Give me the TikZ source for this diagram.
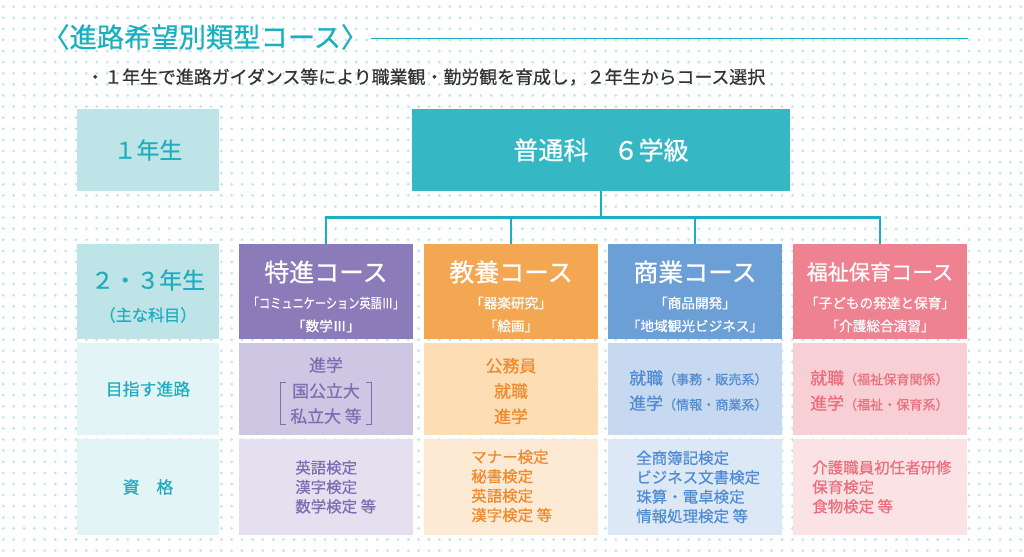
\documentclass[tikz,border=0pt]{standalone}
\usepackage{fontspec}
\usepackage{graphicx}
\setmainfont{Noto Sans CJK JP}[FakeBold=0.6]
\usetikzlibrary{positioning}
\definecolor{tealline}{HTML}{1BB0C0}
\definecolor{tealmain}{HTML}{35B8C4}
\definecolor{tealdark}{HTML}{BEE4E8}
\definecolor{teallight}{HTML}{E3F4F6}
\definecolor{tealtext}{HTML}{20AEBE}
\definecolor{dotc}{HTML}{C2E5EA}
\definecolor{notec}{HTML}{333333}
\definecolor{tkA}{HTML}{8B7BB8}
\definecolor{tkB}{HTML}{CEC7E3}
\definecolor{tkC}{HTML}{E4E0F0}
\definecolor{tkT}{HTML}{7F6DB1}
\definecolor{kyA}{HTML}{F4A753}
\definecolor{kyB}{HTML}{FCDDB4}
\definecolor{kyC}{HTML}{FDEAD5}
\definecolor{kyT}{HTML}{EE8A2D}
\definecolor{shA}{HTML}{6B9FD5}
\definecolor{shB}{HTML}{C6D9F0}
\definecolor{shC}{HTML}{DDE8F6}
\definecolor{shT}{HTML}{4F8CD1}
\definecolor{fkA}{HTML}{EE8290}
\definecolor{fkB}{HTML}{F8CFD4}
\definecolor{fkC}{HTML}{FBE2E5}
\definecolor{fkT}{HTML}{EA6E7D}
\tikzset{%
	cell/.style      = {rectangle, inner sep=0pt, text centered},
	leftdark/.style  = {cell, fill=tealdark, minimum width=3.55cm},
	leftlight/.style = {cell, fill=teallight, minimum width=3.55cm, text=tealtext, font=\fontsize{12}{14}\selectfont},
	mainbox/.style   = {cell, fill=tealmain, minimum width=9.45cm, minimum height=2.05cm, text=white, font=\fontsize{17.8}{20}\selectfont},
	headcell/.style  = {cell, fill=#1, minimum width=4.35cm, minimum height=2.375cm},
	goalcell/.style  = {cell, fill=#1, minimum width=4.35cm, minimum height=2.3cm},
	qualcell/.style  = {cell, fill=#1, minimum width=4.35cm, minimum height=2.4cm},
	yearlbl/.style   = {inner sep=0pt, text=tealtext, font=\fontsize{16.2}{19}\selectfont},
	yearsub/.style   = {inner sep=0pt, text=tealtext, font=\fontsize{11.5}{13}\selectfont},
	hdname/.style    = {inner sep=0pt, text=white, font=\fontsize{17.7}{20}\selectfont},
	hdsub/.style     = {inner sep=0pt, text=white, align=center, font=\fontsize{9.7}{16.3}\selectfont},
	goal/.style      = {inner sep=0pt, text=#1, align=center, font=\fontsize{12}{18}\selectfont},
	goalleft/.style  = {inner sep=0pt, text=#1, align=left, anchor=west, font=\fontsize{12}{18}\selectfont},
	qual/.style      = {inner sep=0pt, text=#1, align=left, anchor=west, font=\fontsize{11}{13.8}\selectfont},
	link/.style      = {draw=tealline, line width=2.1pt},
	dotrow/.style    = {draw=dotc, line width=2.2pt, line cap=round, dash pattern=on 0pt off 0.2595cm},
}
\newcommand{\parsmall}[1]{{\fontsize{9.3}{18}\selectfont #1}}

\begin{document}
\begin{tikzpicture}[x=0.025cm, y=-0.025cm]
	\useasboundingbox[fill=white] (0,0) rectangle (1024,557);
	% dotted background
	\foreach \r in {0,...,49}
		\draw[dotrow] (3.3,6.7+11.1*\r) -- (1022,6.7+11.1*\r);

	\node[inner sep=0pt, anchor=west, text=tealline, font=\fontsize{19.4}{22}\selectfont] (ttl) at (42,37) {〈進路希望別類型コース〉};
	\coordinate (ttlend) at (968,38.5);
	\draw[draw=tealline, line width=1.4pt] ([xshift=2pt]ttl.east |- ttlend) -- (ttlend);
	\node[inner sep=0pt, anchor=west, text=notec, font=\fontsize{12.75}{15}\selectfont] (note) at (86,77) {・１年生で進路ガイダンス等により職業観・勤労観を育成し，２年生からコース選択};

	% first year
	\node[leftdark, minimum height=2.05cm, text=tealtext, font=\fontsize{16.2}{19}\selectfont] (y1) at (148,150) {１年生};
	\node[mainbox] (main) at (601,150) {普通科　６学級};

	% left column
	\node[leftdark, minimum height=2.375cm] (lhd) at (148,291.5) {};
	\node[yearlbl] (lhdt) at (148,280) {２・３年生};
	\node[yearsub] (lhds) at (148,315) {（主な科目）};
	\node[leftlight, minimum height=2.3cm] (lgoal) at (148,389) {目指す進路};
	\node[leftlight, minimum height=2.4cm] (lqual) at (148,487) {資　格};

	% tokushin
	\node[headcell=tkA] (tkh) at (326,291.5) {};
	\node[hdname] (tkn) at (326,272) {特進コース};
	\node[hdsub] (tks) at (326,314.5) {\scalebox{0.82}[1]{「コミュニケーション英語Ⅲ」}\\「数学Ⅲ」};
	\node[goalcell=tkB] (tkg) at (326,389) {};
	\node[goal=tkT] (tkg1) at (326,365) {進学};
	\node[goal=tkT, inner xsep=7pt] (tkg2) at (326,403.5) {国公立大\\私立大 等};
	\draw[draw=tkT, line width=0.8pt] ([xshift=4pt]tkg2.north west) -- (tkg2.north west) -- (tkg2.south west) -- ([xshift=4pt]tkg2.south west);
	\draw[draw=tkT, line width=0.8pt] ([xshift=-4pt]tkg2.north east) -- (tkg2.north east) -- (tkg2.south east) -- ([xshift=-4pt]tkg2.south east);
	\node[qualcell=tkC] (tkq) at (326,487) {};
	\node[qual=tkT] (tkq1) at (295,487) {英語検定\\漢字検定\\数学検定 等};

	% kyoyo
	\node[headcell=kyA] (kyh) at (511,291.5) {};
	\node[hdname] (kyn) at (511,272) {教養コース};
	\node[hdsub] (kys) at (511,314.5) {「器楽研究」\\「絵画」};
	\node[goalcell=kyB] (kyg) at (511,389) {};
	\node[goal=kyT] (kyg1) at (511,391) {公務員\\就職\\進学};
	\node[qualcell=kyC] (kyq) at (511,487) {};
	\node[qual=kyT] (kyq1) at (471,486) {マナー検定\\秘書検定\\英語検定\\漢字検定 等};

	% shogyo
	\node[headcell=shA] (shh) at (695,291.5) {};
	\node[hdname] (shn) at (695,272) {商業コース};
	\node[hdsub] (shs) at (695,314.5) {「商品開発」\\「地域観光ビジネス」};
	\node[goalcell=shB] (shg) at (695,389) {};
	\node[goalleft=shT] (shg1) at (629,390.5) {就職\parsmall{（事務・販売系）}\\進学\parsmall{（情報・商業系）}};
	\node[qualcell=shC] (shq) at (695,487) {};
	\node[qual=shT] (shq1) at (636,487) {全商簿記検定\\ビジネス文書検定\\珠算・電卓検定\\情報処理検定 等};

	% fukushi
	\node[headcell=fkA] (fkh) at (880,291.5) {};
	\node[hdname, font=\fontsize{15}{18}\selectfont] (fkn) at (880,272) {福祉保育コース};
	\node[hdsub] (fks) at (880,314.5) {「子どもの発達と保育」\\「介護総合演習」};
	\node[goalcell=fkB] (fkg) at (880,389) {};
	\node[goalleft=fkT] (fkg1) at (810,390.5) {就職\parsmall{（福祉保育関係）}\\進学\parsmall{（福祉・保育系）}};
	\node[qualcell=fkC] (fkq) at (880,487) {};
	\node[qual=fkT] (fkq1) at (812,487) {介護職員初任者研修\\保育検定\\食物検定 等};

	% connectors
	\draw[link] (main.south) -- ++(0,26) -| (tkh.north);
	\draw[link] (main.south) -- ++(0,26) -| (kyh.north);
	\draw[link] (main.south) -- ++(0,26) -| (shh.north);
	\draw[link] (main.south) -- ++(0,26) -| (fkh.north);
\end{tikzpicture}
\end{document}
